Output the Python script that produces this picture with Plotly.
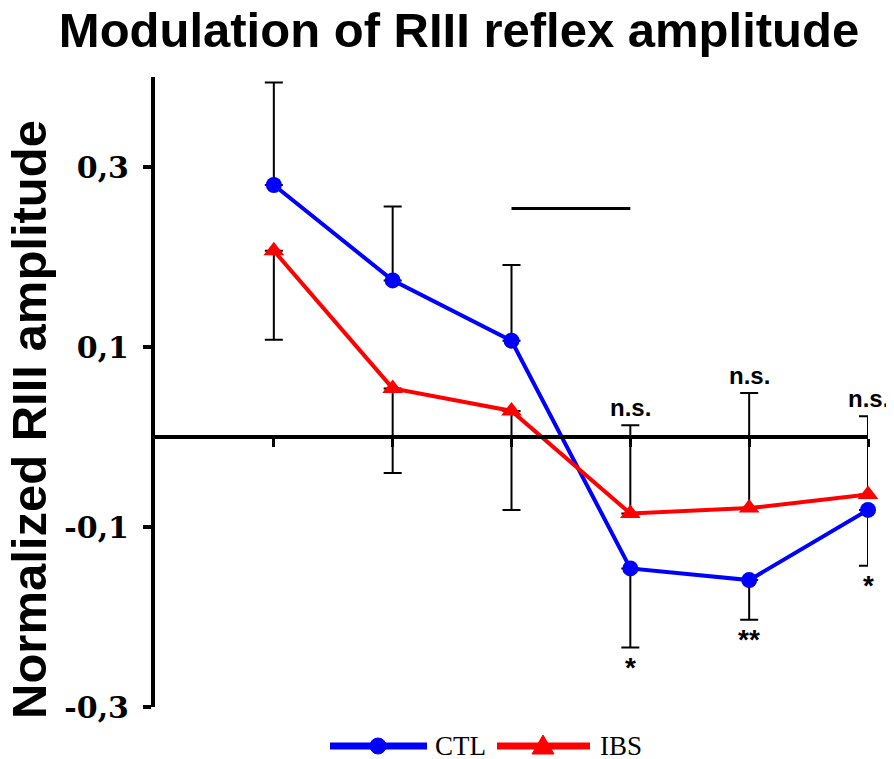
import plotly.graph_objects as go

# ---- data ----
timepoints = [1, 2, 3, 4, 5, 6]
ctl_mean = [0.280, 0.174, 0.107, -0.146, -0.159, -0.081]
ctl_err_plus = [0.114, 0.082, 0.084, 0, 0, 0]
ctl_err_minus = [0, 0, 0, 0.088, 0.044, 0.062]
ibs_mean = [0.207, 0.054, 0.029, -0.085, -0.079, -0.064]
ibs_err_plus = [0, 0, 0, 0.098, 0.128, 0.087]
ibs_err_minus = [0.099, 0.094, 0.110, 0, 0, 0]

ytick_vals = [-0.3, -0.1, 0.1, 0.3]
ytick_text = ["-0,3", "-0,1", "0,1", "0,3"]

ns_labels = ["n.s.", "n.s.", "n.s."]
star_labels = ["*", "**", "*"]
sig_idx = [3, 4, 5]

bar_x = [3, 4]
bar_y = 0.254

series_names = ["CTL", "IBS"]
series_colors = ["#0000ff", "#ff0000"]
series_symbols = ["circle", "triangle-up"]

Y_MIN, Y_MAX = -0.3, 0.4

# page has an 8px body margin; figure is sized to fit the 894x759 window
OFF = 8
W, H = 894 - OFF, 759 - OFF
ML, MR, MT, MB = 155 - OFF, 26, 77 - OFF, 52
PW, PH = W - ML - MR, H - MT - MB


def px_x(p):
    return (p - OFF - ML) / PW


def px_y(p):
    return (H - MB - (p - OFF)) / PH


fig = go.Figure()

err_style = dict(type="data", symmetric=False, color="black", thickness=2, width=9)

fig.add_trace(go.Scatter(
    x=timepoints, y=ctl_mean, name=series_names[0], mode="lines+markers",
    line=dict(color=series_colors[0], width=4),
    marker=dict(symbol=series_symbols[0], size=16, color=series_colors[0]),
    error_y=dict(array=ctl_err_plus, arrayminus=ctl_err_minus, **err_style),
    cliponaxis=False, showlegend=False))

fig.add_trace(go.Scatter(
    x=timepoints, y=ibs_mean, name=series_names[1], mode="lines+markers",
    line=dict(color=series_colors[1], width=4),
    marker=dict(symbol=series_symbols[1], size=18, color=series_colors[1]),
    error_y=dict(array=ibs_err_plus, arrayminus=ibs_err_minus, **err_style),
    cliponaxis=False, showlegend=False))

# significance bar
fig.add_shape(type="line", x0=bar_x[0], x1=bar_x[1], y0=bar_y, y1=bar_y,
              xref="x", yref="y", line=dict(color="black", width=3))

bold = "Liberation Sans, Arial, sans-serif"
for k, i in enumerate(sig_idx):
    top = ibs_mean[i] + ibs_err_plus[i]
    fig.add_annotation(x=timepoints[i], y=top, text="<b>%s</b>" % ns_labels[k],
                       showarrow=False, yanchor="bottom", yshift=2,
                       font=dict(family=bold, size=24, color="black"))
    bot = ctl_mean[i] - ctl_err_minus[i]
    fig.add_annotation(x=timepoints[i], y=bot, text="<b>%s</b>" % star_labels[k],
                       showarrow=False, yanchor="top", yshift=-2,
                       font=dict(family=bold, size=28, color="black"))

# y-axis title
fig.add_annotation(x=px_x(29), y=px_y(420), xref="paper", yref="paper",
                   text="<b>Normalized RIII amplitude</b>", textangle=-90,
                   showarrow=False, xanchor="center", yanchor="middle",
                   font=dict(family=bold, size=49, color="black"))

# manual legend (below the plot)
leg_y = px_y(746)
leg_items = [(330, 427, 378, 433), (497, 590, 543, 598)]
for (x0, x1, xm, xt), name, col, sym in zip(leg_items, series_names, series_colors, series_symbols):
    fig.add_shape(type="line", xref="paper", yref="paper",
                  x0=px_x(x0), x1=px_x(x1), y0=leg_y, y1=leg_y,
                  line=dict(color=col, width=7))
    if sym == "circle":
        fig.add_shape(type="circle", xref="paper", yref="paper",
                      xsizemode="pixel", ysizemode="pixel",
                      xanchor=px_x(xm), yanchor=leg_y,
                      x0=-8, x1=8, y0=-8, y1=8,
                      fillcolor=col, line=dict(color=col, width=1))
    else:
        fig.add_shape(type="path", xref="paper", yref="paper",
                      xsizemode="pixel", ysizemode="pixel",
                      xanchor=px_x(xm), yanchor=leg_y,
                      path="M -11,-8 L 11,-8 L 0,11 Z",
                      fillcolor=col, line=dict(color=col, width=1))
    fig.add_annotation(x=px_x(xt), y=leg_y, xref="paper", yref="paper",
                       text=name, showarrow=False, xanchor="left", yanchor="middle",
                       font=dict(family="Liberation Serif, Times New Roman, serif",
                                 size=27, color="black"))

zero_frac = (0 - Y_MIN) / (Y_MAX - Y_MIN)

fig.update_layout(
    width=W, height=H,
    margin=dict(l=ML, r=MR, t=MT, b=MB, autoexpand=False),
    plot_bgcolor="white", paper_bgcolor="white",
    showlegend=False,
    title=dict(text="<b>Modulation of RIII reflex amplitude</b>",
               x=(459 - OFF) / W, xref="container", xanchor="center",
               y=1 - (30 - OFF) / H, yref="container", yanchor="middle",
               font=dict(family=bold, size=49, color="black")),
    xaxis=dict(range=[0, 6], showgrid=False, zeroline=False,
               showline=True, linecolor="black", linewidth=4,
               anchor="free", position=zero_frac,
               tickvals=timepoints, ticks="outside", ticklen=8, tickwidth=3,
               tickcolor="black", showticklabels=False),
    yaxis=dict(range=[Y_MIN, Y_MAX], showgrid=False, zeroline=False,
               showline=True, linecolor="black", linewidth=4,
               tickvals=ytick_vals, ticktext=ytick_text,
               ticks="outside", ticklen=8, tickwidth=4, tickcolor="black",
               ticklabelstandoff=8,
               tickfont=dict(family="DejaVu Serif", size=30, color="black", weight="bold")),
)

fig.write_html("out.html")
